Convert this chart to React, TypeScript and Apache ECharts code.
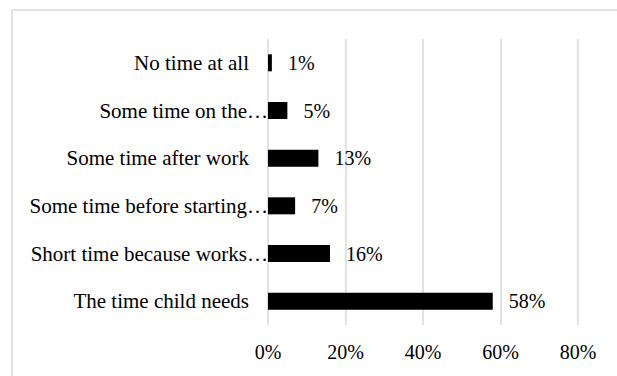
import React, { useEffect, useRef } from "react";
import * as echarts from "echarts";

const categories = [
  "The time child needs",
  "Short time because works…",
  "Some time before starting…",
  "Some time after work",
  "Some time on the…",
  "No time at all",
];
const values = [58, 16, 7, 13, 5, 1];
const xTicks = [0, 20, 40, 60, 80];

const FONT = "Times New Roman, Liberation Serif, DejaVu Serif, serif";

export default function App() {
  const ref = useRef<HTMLDivElement>(null);
  useEffect(() => {
    document.body.style.margin = "0";
    const chart = echarts.init(ref.current!, null, { renderer: "svg" });
    chart.setOption({
      animation: false,
      backgroundColor: "#ffffff",
      textStyle: { fontFamily: FONT },
      graphic: [
        {
          type: "line",
          shape: { x1: 12, y1: 10, x2: 617, y2: 10 },
          style: { stroke: "#d9d9d9", lineWidth: 1.5 },
          silent: true,
        },
        {
          type: "line",
          shape: { x1: 12, y1: 10, x2: 12, y2: 376 },
          style: { stroke: "#d9d9d9", lineWidth: 1.5 },
          silent: true,
        },
      ],
      grid: { left: 268, right: 39, top: 39, bottom: 51, containLabel: false },
      xAxis: {
        type: "value",
        min: xTicks[0],
        max: xTicks[xTicks.length - 1],
        interval: 20,
        axisLine: { show: false },
        axisTick: { show: false },
        axisLabel: {
          formatter: (v: number) => `${v}%`,
          fontFamily: FONT,
          fontSize: 20,
          color: "#000",
          margin: 17,
        },
        splitLine: { show: true, lineStyle: { color: "#d9d9d9", width: 1.5 } },
      },
      yAxis: {
        type: "category",
        data: categories,
        axisLine: { show: false },
        axisTick: { show: false },
        axisLabel: {
          margin: 0,
          fontFamily: FONT,
          fontSize: 21,
          color: "#000",
          formatter: (v: string) => (v.endsWith("…") ? `{t|${v}}` : `{f|${v}}`),
          rich: {
            t: { fontFamily: FONT, fontSize: 21, color: "#000", padding: [0, 0, 0, 0] },
            f: { fontFamily: FONT, fontSize: 21, color: "#000", padding: [0, 19, 0, 0] },
          },
        },
      },
      series: [
        {
          type: "bar",
          data: values,
          barWidth: 17,
          itemStyle: { color: "#000000" },
          label: {
            show: true,
            position: "right",
            distance: 16,
            formatter: (p: any) => `${p.value}%`,
            fontFamily: FONT,
            fontSize: 20,
            color: "#000",
          },
        },
      ],
    });
    return () => chart.dispose();
  }, []);
  return (
    <div
      ref={ref}
      style={{ position: "absolute", left: 0, top: 0, width: 617, height: 376 }}
    />
  );
}
